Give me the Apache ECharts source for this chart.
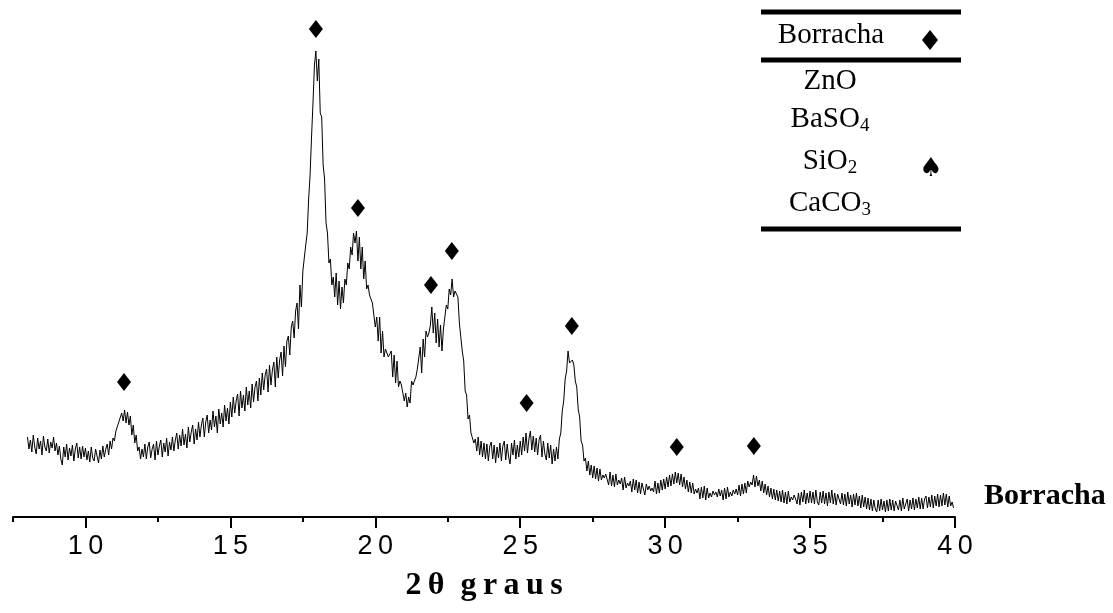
<!DOCTYPE html>
<html><head><meta charset="utf-8">
<script src="https://cdn.jsdelivr.net/npm/echarts@6/dist/echarts.min.js"></script>
<style>html,body{margin:0;padding:0;background:#fff}#c{width:1113px;height:613px}</style>
</head><body><div id="c"></div>
<script>
// tick positions on the 2θ axis
const xMajorTicks = [10, 15, 20, 25, 30, 35, 40];
const xMinorTicks = [7.5, 12.5, 17.5, 22.5, 27.5, 32.5, 37.5];
// diamond markers (rubber reflections): angle and marker height
const peakAngles = [11.33, 17.95, 19.4, 21.92, 22.64, 25.22, 26.78, 30.4, 33.06];
const peakMarkHeights = [135, 488, 309, 232, 266, 114, 191, 70, 71];
// diffractogram of "Borracha": scan from 8.00° in 0.05° steps, intensity (a.u.), one row per degree
const scanStart = 8.0;
const scanStep = 0.05;
const intensity = [
80,68,77,65,82,70,63,79,68,76,62,81,70,66,78,64,75,69,80,66,
74,62,71,58,52,70,60,73,57,69,61,72,56,68,74,59,70,58,71,60,
69,57,66,55,70,59,56,68,61,54,67,58,71,60,68,73,62,76,68,79,
76,86,84,95,93,104,96,107,94,105,92,101,82,92,74,82,66,70,58,68,
60,73,58,70,75,59,68,73,57,76,62,71,77,60,74,65,79,61,75,67,
80,66,77,84,68,82,71,88,72,83,69,90,75,85,92,73,88,77,95,80,
92,99,80,95,102,84,97,87,106,90,101,84,108,93,104,90,112,96,109,93,
115,100,120,104,116,123,101,126,109,122,106,130,112,126,109,133,115,130,136,116,
139,122,144,127,142,148,125,152,132,147,155,130,160,139,157,165,141,171,150,176,
181,162,190,196,179,206,214,188,232,210,246,244,272,284,318,342,380,414,452,466,
436,458,404,400,352,338,294,284,254,258,232,240,220,244,212,236,208,230,214,238,
232,254,248,270,262,284,274,286,256,280,248,270,238,256,228,232,222,224,214,212,
190,200,176,200,164,186,160,168,164,160,158,166,140,162,134,156,130,136,132,130,
116,124,110,120,114,136,132,136,140,148,146,170,144,178,160,186,180,184,192,210,
184,204,174,198,170,192,166,188,190,212,208,228,222,238,220,226,224,220,194,194,
166,156,126,122,98,102,84,86,74,78,66,80,62,76,60,74,58,73,56,71,
75,58,72,54,70,59,74,56,71,76,57,73,60,53,74,62,77,58,72,60,
76,62,80,66,84,64,78,86,67,81,65,79,62,77,82,60,76,63,57,74,
59,72,53,68,56,70,58,78,84,106,116,138,146,166,154,156,157,152,136,130,
108,100,76,72,56,59,46,56,42,52,39,51,38,49,36,48,37,42,39,43,
44,32,45,31,42,30,43,32,37,33,39,27,40,29,34,31,36,25,38,27,
37,24,35,23,34,28,22,33,27,31,26,29,25,36,23,34,24,37,27,38,
28,40,30,42,31,43,33,45,34,44,32,43,30,40,28,37,25,35,24,34,
23,28,24,29,18,30,19,31,17,29,19,24,20,26,22,25,20,28,21,27,
17,29,18,30,20,25,21,27,23,28,22,32,21,33,23,34,24,36,30,35,
32,42,30,41,31,37,26,36,24,33,22,31,20,29,18,28,17,27,16,26,
15,27,14,25,13,26,15,20,17,22,18,13,24,12,25,15,27,13,24,14,
26,14,25,13,27,15,12,25,14,26,13,24,11,25,14,27,13,24,12,23,
25,13,24,12,23,11,25,13,22,10,23,12,24,11,21,9,22,10,20,8,
19,7,18,6,17,8,5,17,6,18,7,16,5,17,6,18,7,17,6,16,
18,7,17,6,19,8,7,18,6,17,8,19,7,18,9,20,8,19,8,18,
21,9,20,10,22,9,21,11,23,10,22,11,24,12,23,10,21,11,15,9
];
const sampleName = 'Borracha';
const legendRows = ['ZnO', 'BaSO{s|4}', 'SiO{s|2}', 'CaCO{s|3}'];

const serif = '"Liberation Serif", "Times New Roman", serif';
const sans = '"Liberation Sans", Arial, sans-serif';
const chart = echarts.init(document.getElementById('c'));
const spaced = s => String(s).split('').join('\u2009');
const pattern = intensity.map((v, i) => [+(scanStart + i * scanStep).toFixed(2), v]);
const rich = { s: { fontSize: 19, fontFamily: serif, padding: [14, 0, 0, 0], fill: '#000', color: '#000' } };
const rowY = [81, 119, 161, 203];
const graphic = [
  { type: 'line', shape: { x1: 761, y1: 12, x2: 961, y2: 12 }, style: { stroke: '#000', lineWidth: 5 } },
  { type: 'line', shape: { x1: 761, y1: 60, x2: 961, y2: 60 }, style: { stroke: '#000', lineWidth: 5 } },
  { type: 'line', shape: { x1: 761, y1: 229, x2: 961, y2: 229 }, style: { stroke: '#000', lineWidth: 5 } },
  { type: 'text', x: 831, y: 35, style: { text: sampleName, font: '29px ' + serif, fill: '#000', align: 'center', verticalAlign: 'middle' } },
  { type: 'polygon', shape: { points: [[930, 30], [938, 40], [930, 50], [922, 40]] }, style: { fill: '#000' } },
  { type: 'text', x: 931, y: 169, style: { text: '\u2660', font: '26px "DejaVu Sans"', fill: '#000', align: 'center', verticalAlign: 'middle' } },
  { type: 'text', x: 984, y: 496, style: { text: sampleName, font: 'bold 30px ' + serif, fill: '#000', align: 'left', verticalAlign: 'middle' } }
];
legendRows.forEach((t, i) => {
  graphic.push({ type: 'text', x: 830, y: rowY[i], style: { text: t, rich: rich, fontSize: 29, fontFamily: serif, fill: '#000', align: 'center', verticalAlign: 'middle' } });
});

chart.setOption({
  animation: false,
  backgroundColor: '#fff',
  grid: { left: 13, right: 158, top: 17, bottom: 96 },
  xAxis: [{
    type: 'value', min: 7.5, max: 40,
    axisLine: { lineStyle: { color: '#000', width: 2 } },
    axisTick: { customValues: xMajorTicks, length: 11, lineStyle: { color: '#000', width: 2 } },
    axisLabel: { customValues: xMajorTicks, formatter: v => spaced(v), fontFamily: sans, fontSize: 27, color: '#000', margin: 16 },
    splitLine: { show: false },
    name: '2\u2009\u03b8  g\u2009r\u2009a\u2009u\u2009s', nameLocation: 'middle', nameGap: 53,
    nameTextStyle: { fontFamily: serif, fontWeight: 'bold', fontSize: 32, color: '#000' }
  }, {
    type: 'value', min: 7.5, max: 40, position: 'bottom',
    axisLine: { show: false },
    axisTick: { customValues: xMinorTicks, length: 5, lineStyle: { color: '#000', width: 2 } },
    axisLabel: { show: false }, splitLine: { show: false }
  }],
  yAxis: { type: 'value', min: 0, max: 500, show: false },
  series: [{
    type: 'line', data: pattern, showSymbol: false, xAxisIndex: 0,
    lineStyle: { color: '#000', width: 1 }, silent: true
  }, {
    type: 'scatter', xAxisIndex: 0, symbol: 'diamond', symbolSize: [14, 18],
    itemStyle: { color: '#000', opacity: 1 },
    data: peakAngles.map((a, i) => [a, peakMarkHeights[i]])
  }],
  graphic: graphic
});
</script></body></html>
